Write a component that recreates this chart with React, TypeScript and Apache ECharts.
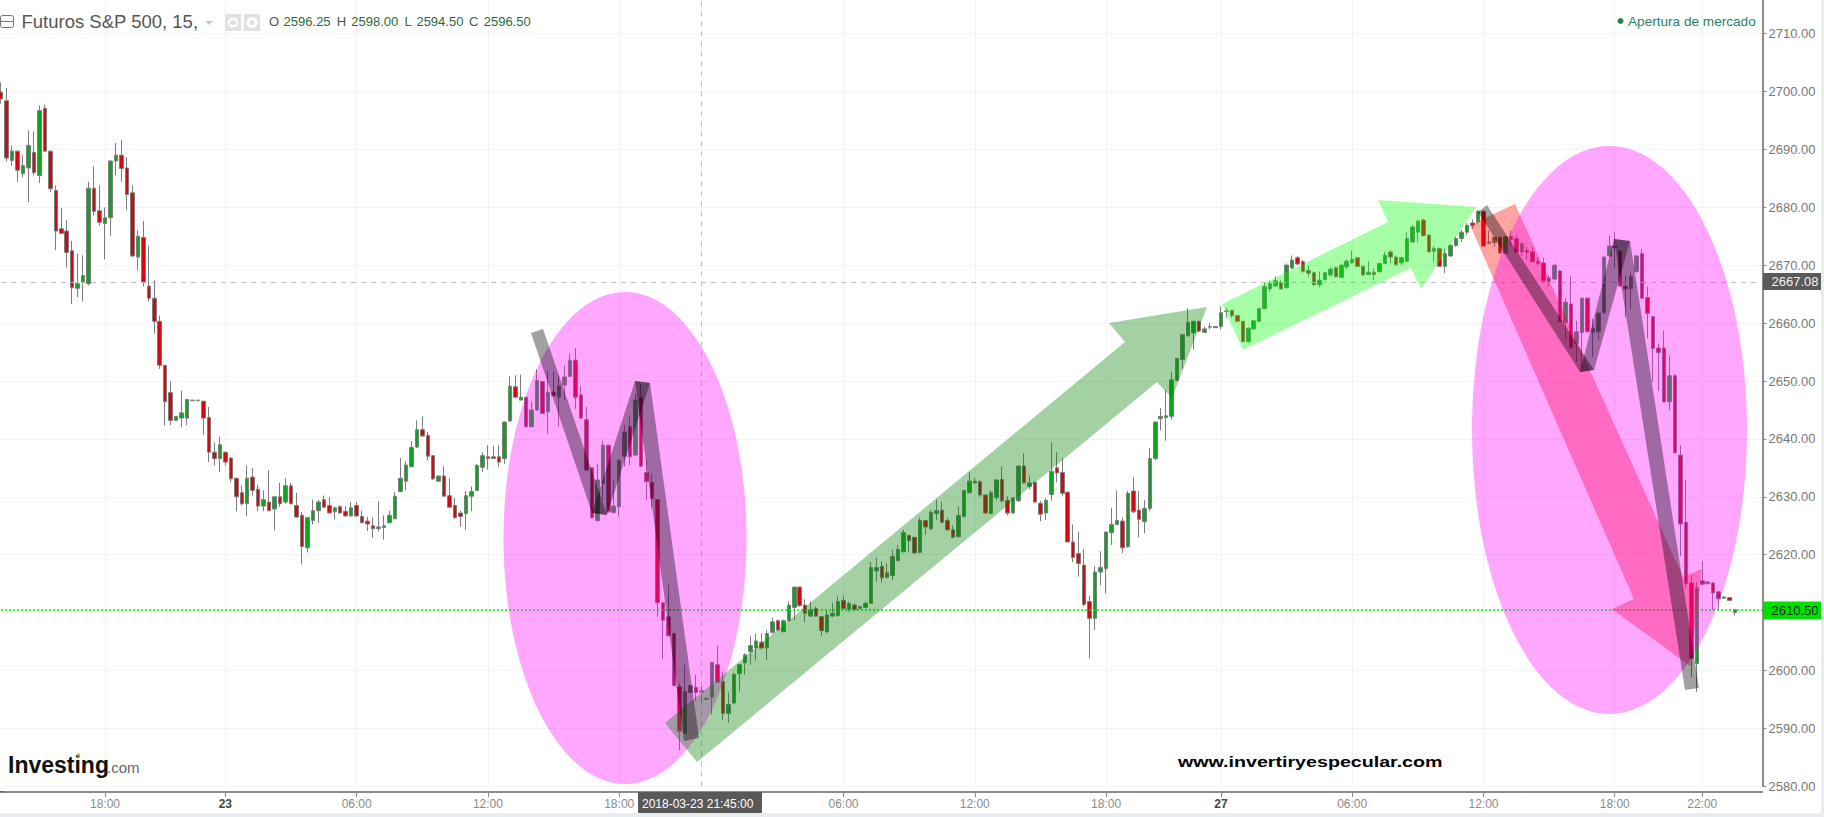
import React, { useEffect, useRef } from "react";
import * as echarts from "echarts";

// Each bar: [open, close, low, high]
const barsMar22Evening = [
  [2699.9,2698.7,2697.9,2701.6],[2698.4,2688.5,2687.9,2700.6],[2688.1,2689.7,2687.2,2690.7],[2689.7,2686.4,2684.4,2689.8],
  [2685.8,2687.2,2685.2,2689],[2686.8,2690.7,2680.9,2693.3],[2689.5,2686,2685.5,2693.1],[2685.5,2696.7,2684.2,2697.6],
  [2697.1,2689.7,2689.6,2697.7],[2689.7,2683.2,2682.6,2689.8],[2682.9,2675.9,2672.6,2683.8],[2676.3,2675.5,2675.5,2679.9],
  [2675.9,2672.2,2669.6,2677.8],[2672.5,2666.1,2663.3,2674.2],[2666,2666.8,2664.5,2672],[2667.1,2668.2,2663.7,2671.7],
  [2666.8,2683.3,2666.5,2684.4],[2683.3,2679.3,2678.6,2687.1],[2679.4,2677.4,2676.8,2683.8],[2677.2,2678.2,2671,2680],
  [2678.2,2688,2675.1,2688.1],[2688,2689,2685.5,2691.1],[2689,2686.7,2684.4,2691.6],[2686.8,2682.2,2679.5,2688.7],
  [2682.5,2671.6,2671.4,2683.8],[2671.4,2675,2669.1,2676],[2674.8,2667.1,2666.3,2677.6],[2666.4,2664.3,2663.7,2673.4],
  [2664.3,2660.3,2658.2,2667.4],[2660.3,2652.7,2652.1,2661.3],[2652.7,2646.4,2642.3,2652.8],[2648,2643.2,2642.4,2650],
  [2643.2,2643.9,2643.2,2643.9],[2643.6,2644.5,2642,2648.3],[2643.6,2646.8,2642.4,2646.8],[2646.6,2646.7,2646.6,2646.7],
  [2646.6,2646.7,2646.6,2646.7],[2646.5,2643.6,2640.7,2646.6],[2643.7,2637.7,2636,2645.5],[2637.7,2636.6,2635.4,2639.4],
  [2636.6,2639,2634.3,2640.4],
];
const barsMar23Morning = [
  [2637.7,2636,2635.4,2637.8],[2636.7,2633.1,2632.5,2636.8],[2633.2,2630,2627.5,2633.3],[2630.7,2628.8,2628.5,2632],
  [2628.8,2633.2,2626.7,2635.4],[2633.4,2631.1,2630.2,2635],[2631.3,2628.4,2627.5,2632.1],[2628.4,2629.5,2627.5,2631.1],
  [2629.1,2627.6,2627.5,2634.6],[2627.9,2630,2624.2,2630.1],[2630,2628.8,2628.3,2632.4],[2629.1,2631.9,2628.8,2633.2],
  [2631.9,2628.8,2628.7,2632.4],[2628.5,2626.5,2626.4,2630.7],[2626.8,2621.4,2618.3,2627.4],[2621.2,2626.4,2620.4,2626.5],
  [2625.9,2627.6,2625.2,2629.5],[2627.6,2629.1,2625.5,2629.5],[2629.5,2628.2,2628.1,2630.2],[2628.5,2627.2,2627.2,2629.9],
  [2627.4,2628.1,2626.1,2628.3],[2628.3,2627.2,2627.1,2628.5],[2627.5,2626.7,2626.6,2628.4],[2626.7,2628.1,2626.6,2629.1],
  [2628.5,2626.7,2626.5,2629.1],[2626.6,2625.5,2625.5,2627.6],[2625.8,2625.3,2624.1,2626.5],[2625,2624.5,2622.9,2626.4],
  [2624.5,2624.8,2624,2629.2],[2624.7,2625,2622.6,2626.8],[2625.5,2626.8,2625.5,2627.6],[2626.2,2630.1,2626.2,2630.8],
  [2630.9,2633.2,2630.8,2636.7],[2632.7,2635.5,2631.1,2636.1],[2635.2,2638.5,2635.1,2639.6],[2638.6,2641.6,2638.4,2643.2],
  [2641.6,2640.5,2640.4,2643.9],[2640.6,2637,2636.3,2641.2],[2637.1,2633.1,2632.9,2637.2],[2632.7,2633.6,2632.6,2633.6],
  [2633.6,2630.1,2630.1,2635.3],[2630.2,2628.2,2628.2,2633.2],[2628.5,2626.4,2626.2,2629.8],[2627.2,2626.6,2624.8,2627.6],
  [2627.1,2630.2,2624.3,2631],[2630.1,2630.9,2627.5,2631.8],[2631.1,2635.4,2631,2635.7],[2635.1,2637.1,2634.3,2637.7],
  [2636.9,2636.6,2634.7,2638.9],[2636.9,2636.6,2636.6,2638.8],[2636.9,2636,2635.2,2638.9],
];
const barsMar23Afternoon = [
  [2636.6,2642.9,2635.7,2643],[2643.1,2649.1,2642.9,2650.8],[2649,2647.2,2647,2651],[2646.7,2647.2,2646.7,2651.1],
  [2647.2,2642.1,2642,2647.2],[2642.1,2645,2642,2646.4],[2645,2650.1,2644.9,2652],[2649.9,2644.4,2644.3,2650],
  [2644.7,2648.1,2640.9,2651.7],[2648.1,2647.5,2647.2,2651.6],[2647.2,2649.1,2642.1,2651],[2649.3,2650.7,2646.7,2652.7],
  [2650.8,2653.6,2650.7,2654.7],[2653.6,2647.2,2645.2,2655.7],[2647.6,2643.6,2643.5,2649.1],[2643.3,2634.6,2634.5,2645.5],
  [2635,2626.4,2626.3,2635],[2625.9,2632.9,2625.7,2635.7],[2632.3,2638.9,2629.4,2639.7],[2638.9,2627.4,2627.3,2639],
  [2627.3,2628.4,2627.1,2632.9],[2628.3,2636.3,2626.6,2636.4],[2637,2641.2,2635.2,2642.4],[2642.1,2636.9,2635.5,2643.8],
  [2637.2,2646.7,2637,2647.8],[2647.2,2635.3,2635.2,2649.5],[2634.2,2632.6,2629.4,2636.3],[2632.5,2629.7,2628,2634],
  [2629.5,2611.7,2609.3,2629.6],[2611.7,2608.7,2602,2611.8],[2609.3,2606,2605.9,2614.8],[2606.4,2597.4,2597.3,2606.5],
  [2597.2,2589.5,2586.2,2597.8],[2589.2,2596.4,2589.1,2601],[2596.2,2597.4,2596,2597.5],[2597.1,2596.2,2594.7,2599.3],
  [2596.25,2596.5,2594.5,2598],[2595,2595.2,2595,2595.3],[2595.4,2601.4,2592.4,2601.5],[2601,2598,2597.8,2604.3],
];
const barsMar26Night = [
  [2598.1,2592.6,2591.4,2599.8],[2592.6,2594.1,2591,2596.2],[2594.4,2599.3,2594.2,2599.6],[2599.5,2601,2596.4,2601.1],
  [2601.3,2602.7,2599.3,2603],[2603.3,2604.3,2601,2605.9],[2603.9,2605.1,2601.7,2606.4],[2604.9,2603.9,2603.6,2606.4],
  [2603.9,2606.4,2601.8,2607],[2606.6,2608.4,2606.4,2609.1],[2608.6,2607,2606.8,2608.8],[2606.7,2608.6,2606.6,2608.8],
  [2608.6,2611.3,2608.4,2611.9],[2610.9,2614.4,2608.7,2614.5],[2614.4,2611.2,2611,2614.5],[2611.3,2609.9,2608.3,2612.3],
  [2609.4,2610.5,2609.3,2611.9],[2610.7,2609.4,2609.3,2611],[2609.3,2606.9,2606,2609.4],[2606.7,2609.6,2606.4,2610.5],
  [2609.4,2609.9,2609.3,2611.7],[2609.5,2611.9,2609.3,2612.8],[2612.1,2610.7,2610.6,2612.9],[2610.6,2611.6,2610.2,2611.9],
  [2611.3,2610.5,2610.3,2611.6],[2610.7,2611,2610.6,2611.2],[2610.9,2611.6,2610.7,2611.9],[2611.6,2617.8,2611.5,2618.8],
  [2617.2,2617.8,2615.3,2619.5],[2618,2616,2615.2,2618.8],[2616.1,2616.9,2615.9,2618.5],[2616.4,2619.7,2615.6,2620.8],
  [2619,2620.9,2618.8,2621.7],[2620.5,2623.8,2620.4,2624.3],[2623.3,2622.4,2620.5,2623.5],[2623,2620.3,2620.2,2623.1],
  [2620.4,2625.9,2620.2,2626.4],[2625.9,2624.8,2623.4,2626],[2624.5,2627.3,2624.2,2627.7],[2627.1,2627.6,2626,2629.5],
  [2627.7,2625.6,2625.4,2629.1],[2625.9,2624.3,2624.1,2626.3],[2624.3,2623,2622.8,2625.1],[2623.1,2626.8,2623,2628.3],
  [2626.6,2631.1,2626.4,2631.2],[2630.7,2632.7,2630.6,2634.3],[2632.7,2632.4,2632.3,2633.2],[2632.6,2630.3,2630,2632.9],
  [2630.3,2627.2,2627,2630.4],[2627.1,2630.7,2627,2631.1],[2629.9,2632.9,2629.4,2633],
];
const barsMar26Day = [
  [2633,2629.3,2629,2635.2],[2629.4,2627.2,2626.8,2630.1],[2627.2,2629.8,2627.1,2629.9],[2629.3,2635.3,2629.1,2635.4],
  [2635.3,2632.4,2632.3,2637.5],[2631.8,2632.4,2631.3,2633.7],[2632.5,2629.1,2629,2632.7],[2628.9,2627,2625.8,2629.3],
  [2627.2,2629.4,2626,2629.8],[2630.4,2634.4,2629.3,2639.4],[2635,2634.1,2632.5,2637.7],[2634.2,2630.6,2630.1,2636.7],
  [2630.8,2622.2,2622.2,2631],[2622.2,2619.5,2618.7,2625.2],[2620.2,2618.5,2616.2,2624],[2618.2,2611.4,2611.1,2621],
  [2611.9,2609,2602.1,2612.9],[2609,2617,2607,2618],[2617,2617.8,2614.7,2620.6],[2617.6,2623.9,2613.3,2624],
  [2623.8,2625.2,2621.7,2628.1],[2625.2,2625.9,2625.1,2631.1],[2625.8,2621.2,2620.3,2626.4],[2621.4,2630.6,2621.2,2631],
  [2631,2627.4,2627.2,2633.4],[2627.7,2626.1,2623,2631],[2625.7,2628,2623.7,2629.4],[2628,2636.6,2627.5,2638.4],
  [2636.6,2642.9,2636.3,2643],[2643.5,2643.9,2641.5,2645.3],[2643.7,2644,2639.7,2648.5],[2643.9,2650.2,2643.3,2651.6],
  [2650.1,2653.9,2650,2654],[2653.7,2658,2652.1,2658.1],[2657.8,2660.1,2657.7,2662.6],[2658.3,2660.3,2655.4,2660.4],
  [2660.3,2658.6,2658.4,2660.4],[2658.4,2659,2658.3,2659.4],[2659.3,2659.4,2658.9,2660],[2659.4,2659.2,2659.2,2659.4],
];
const barsMar27Night = [
  [2659.4,2661.8,2658.9,2662.9],[2662,2662.1,2660.9,2662.6],[2662.2,2661.3,2660.9,2662.3],[2661.3,2660.3,2660.2,2661.4],
  [2660.3,2656.8,2656.7,2660.4],[2656.8,2659.1,2656.6,2659.3],[2659,2660.4,2658.9,2660.6],[2660.3,2662.5,2660.2,2662.6],
  [2662.5,2666.3,2662.4,2666.9],[2665.9,2666.8,2665.4,2667.3],[2666.4,2667.3,2666.3,2668.1],[2667,2665.9,2665.8,2667.4],
  [2666.1,2670,2666,2670.3],[2669.5,2670.9,2669.3,2671.7],[2671.3,2670.2,2670,2671.6],[2670.6,2668.9,2668.7,2670.9],
  [2669.1,2668.6,2668,2669.9],[2668.7,2666.6,2666.5,2668.9],[2666.6,2667.4,2666.2,2668.9],[2667.5,2668.7,2667.4,2668.9],
  [2668.3,2669.3,2668.1,2669.6],[2669.6,2668,2667.9,2669.7],[2667.9,2670,2667.8,2670.3],[2669.7,2670.7,2669.3,2671],
  [2670.4,2671,2670.3,2672.5],[2671.3,2669.8,2669.7,2671.4],[2669.8,2668.3,2668.1,2670],[2668.4,2668.8,2668.3,2670.6],
  [2668.8,2668.4,2667.4,2669.4],[2668.9,2670.3,2668.7,2670.4],[2670.3,2671.7,2670.2,2672.3],[2672.3,2671.4,2670.3,2672.6],
  [2671.4,2670.1,2669.8,2671.7],[2670.4,2671.3,2670,2671.4],[2670.7,2674.6,2670.6,2675.7],[2674,2676.6,2673.9,2676.9],
  [2675.7,2677.6,2674,2677.8],[2677.8,2675.1,2674.9,2678],[2675.2,2672.3,2672.2,2675.3],[2672.4,2672.9,2670.6,2673.3],
  [2672.9,2669.8,2669.7,2673],[2669.8,2672,2668.6,2672.9],[2671.6,2673.4,2671.4,2673.6],[2673.4,2674.6,2673.2,2674.9],
  [2674.6,2675.7,2674,2676.1],[2675.7,2676.9,2675.2,2677.3],[2677.3,2676.9,2676.3,2677.9],
];
const barsMar27Day = [
  [2677.5,2679.3,2677.2,2679.5],[2679.3,2673.3,2673.2,2679.5],[2674,2673.8,2673.6,2676],[2673.9,2674.8,2673.2,2674.9],
  [2674.8,2672.1,2672,2674.9],[2672.1,2674.9,2672,2675],[2675,2674.4,2673.4,2676],[2674.6,2672.3,2672.2,2675.2],
  [2672.3,2673.7,2671.6,2674],[2672.6,2672.2,2670.9,2673.2],[2672.3,2670.6,2670.5,2673.2],[2670.7,2670.3,2670,2671.4],
  [2670.4,2667.3,2667.1,2671.3],[2667.2,2667.8,2666.3,2668.3],[2667.6,2670,2667.4,2670.1],[2669,2660.3,2660.2,2669.1],
  [2660.1,2663.6,2657.1,2664.3],[2663.3,2655.8,2655.6,2668.1],[2656.5,2658.5,2653.3,2660.4],[2658.4,2664.3,2652,2664.4],
  [2664.3,2658.5,2658.4,2664.4],[2658.4,2659.1,2654.2,2660.8],[2658.5,2661.7,2657.1,2662],[2661.8,2671.4,2661.6,2671.6],
  [2671.6,2673.3,2671.4,2675.1],[2673.3,2673,2669.5,2675.7],[2672.4,2666.4,2666.2,2672.6],[2666.4,2665.9,2661,2668.2],
  [2666,2668,2662.5,2668.7],[2668.9,2671.6,2668.7,2671.7],[2672,2664.3,2664.1,2672.8],[2664.4,2661.7,2657.4,2666.3],
  [2661.1,2655.6,2649.8,2661.2],[2655.7,2654.9,2648.3,2656.5],[2655.7,2646.4,2646.3,2658.7],[2646.4,2650.9,2645,2654.4],
  [2650.9,2637.6,2637.5,2651.2],[2637.2,2625.3,2619.8,2638.9],[2625.6,2615,2614.2,2632.9],[2615.1,2602.1,2598.9,2616.5],
  [2601.2,2614.3,2596.3,2615.3],[2615.5,2614.9,2614.7,2618.9],[2615.3,2615,2614.9,2615.4],[2615.1,2613.4,2610.5,2615.3],
  [2613.6,2612.4,2610.4,2613.7],[2612.5,2612.7,2612.4,2612.8],[2612.6,2612.1,2612,2612.7],[2610,2610.5,2609.5,2610.5],
];

const tickIndices = [19, 41, 65, 89, 113, 154, 178, 202, 223, 247, 271, 295, 311];
const tickLabels = ["18:00", "23", "06:00", "12:00", "18:00", "06:00", "12:00", "18:00", "27", "06:00", "12:00", "18:00", "22:00"];
const dayTicks = ["23", "27"];
const crosshairIndex = 128;
const crosshairTime = "2018-03-23 21:45:00";
const lastPriceLevel = 2610.5;
const crosshairPrice = 2667.08;
const hiddenPriceTicks = [2610, 2720];

const title = "Futuros S&P 500, 15,";
const ohlcLegend = [
  ["O", "2596.25", 269, 283.6],
  ["H", "2598.00", 336.8, 351.3],
  ["L", "2594.50", 404.5, 416.4],
  ["C", "2596.50", 469, 483.7],
];

const SLOTS = 323;

const pink = "rgba(255,0,255,0.35)";
const shadow = "rgba(0,0,0,0.37)";

const poly = (points: number[][], fill: string, z: number) => ({
  type: "polygon",
  z,
  silent: true,
  shape: { points },
  style: { fill },
});

export default function App() {
  const ref = useRef<HTMLDivElement>(null);
  useEffect(() => {
    document.body.style.margin = "0";
    document.body.style.background = "#fff";
    const chart = echarts.init(ref.current!, undefined, { renderer: "svg", width: 1824, height: 817 });
    const bars = [
      ...barsMar22Evening, ...barsMar23Morning, ...barsMar23Afternoon, ...barsMar26Night,
      ...barsMar26Day, ...barsMar27Night, ...barsMar27Day,
    ];
    const categories = Array.from({ length: SLOTS }, (_, i) => {
      const k = tickIndices.indexOf(i);
      return k >= 0 ? `${tickLabels[k]}#${i}` : `#${i}`;
    });
    const isTick = (i: number) => tickIndices.includes(i);

    const text = (t: string, x: number, y: number, font: string, fill: string, z = 70, extra: any = {}) => ({
      type: "text",
      x,
      y,
      z,
      silent: true,
      ...extra,
      style: { text: t, font, fill, textAlign: "left", textVerticalAlign: "middle", ...(extra.style || {}) },
    });

    const elements: any[] = [
      // annotation shapes
      poly([[1470, 225], [1515, 204], [1683, 577], [1702, 569], [1690, 666], [1612, 609], [1634, 599]], "rgba(255,0,0,0.36)", 49),
      { type: "ellipse", z: 50, silent: true, shape: { cx: 625, cy: 538, rx: 121.5, ry: 246 }, style: { fill: pink } },
      { type: "ellipse", z: 50, silent: true, shape: { cx: 1609.5, cy: 430, rx: 137.5, ry: 284 }, style: { fill: pink } },
      poly([[665, 723], [1125, 342], [1109, 323], [1207, 307], [1172, 398], [1157, 382], [697, 762]], "rgba(0,128,0,0.36)", 51),
      poly([[1222, 304], [1388, 222], [1378, 200], [1476, 207], [1421, 289], [1411, 268], [1243, 350]], "rgba(0,255,0,0.35)", 51),
      poly([[531, 333], [543, 329], [607, 515], [592, 513]], shadow, 53),
      poly([[592, 513], [607, 515], [650, 383], [635, 381]], shadow, 53),
      poly([[635, 381], [650, 383], [699, 738], [684, 741]], shadow, 53),
      poly([[1478, 212], [1487, 205], [1594, 370], [1580, 372]], shadow, 53),
      poly([[1580, 372], [1594, 370], [1630, 241], [1614, 239]], shadow, 53),
      poly([[1614, 239], [1630, 241], [1699, 688], [1685, 690]], shadow, 53),

      // clip of the price labels and page strips
      { type: "rect", z: 60, silent: true, shape: { x: 1815, y: 0, width: 6, height: 792 }, style: { fill: "#fff" } },
      { type: "rect", z: 61, silent: true, shape: { x: 1821, y: 0, width: 3, height: 817 }, style: { fill: "#e8ecf0" } },
      { type: "rect", z: 61, silent: true, shape: { x: 0, y: 813, width: 1824, height: 4 }, style: { fill: "#e8ecf0" } },
      { type: "rect", z: 40, silent: true, shape: { x: 0, y: 791, width: 4, height: 1.5 }, style: { fill: "#666" } },

      // price tags
      { type: "rect", z: 65, silent: true, shape: { x: 1763, y: 273, width: 58, height: 17 }, style: { fill: "#5a5a5a" } },
      text("2667.08", 1771.5, 281.5, "13px 'Liberation Sans'", "#f2f2f2"),
      { type: "rect", z: 65, silent: true, shape: { x: 1763, y: 601.5, width: 58, height: 18 }, style: { fill: "#00e000" } },
      text("2610.50", 1771.5, 610.5, "13px 'Liberation Sans'", "#222"),

      // time tag
      { type: "rect", z: 65, silent: true, shape: { x: 638, y: 792, width: 124, height: 21 }, style: { fill: "#595959" } },
      text(crosshairTime, 642, 803.5, "12px 'Liberation Sans'", "#fff"),

      // header
      { type: "rect", z: 70, silent: true, shape: { x: 0.5, y: 15.5, width: 13, height: 12, r: 2 }, style: { fill: "#fff", stroke: "#777", lineWidth: 1 } },
      { type: "line", z: 71, silent: true, shape: { x1: 0.5, y1: 21.5, x2: 13.5, y2: 21.5 }, style: { stroke: "#777", lineWidth: 1 } },
      text(title, 21.5, 21.5, "18.5px 'Liberation Sans'", "#555"),
      poly([[205, 21], [213, 21], [209, 25]], "#c8c8c8", 70),
      { type: "rect", z: 70, silent: true, shape: { x: 225, y: 14, width: 16, height: 17 }, style: { fill: "#e2e2e2" } },
      { type: "rect", z: 70, silent: true, shape: { x: 244, y: 14, width: 16, height: 17 }, style: { fill: "#e2e2e2" } },
      { type: "ring", z: 71, silent: true, shape: { cx: 233, cy: 22.5, r: 5, r0: 3 }, style: { fill: "#fff" } },
      { type: "ring", z: 71, silent: true, shape: { cx: 252, cy: 22.5, r: 5.5, r0: 2.5 }, style: { fill: "#fff" } },
      ...ohlcLegend.flatMap(([k, v, kx, vx]) => [
        text(k as string, kx as number, 21.5, "13px 'Liberation Sans'", "#4a5a52"),
        text(v as string, vx as number, 21.5, "13px 'Liberation Sans'", "#1e6b3c"),
      ]),
      { type: "circle", z: 70, silent: true, shape: { cx: 1620.5, cy: 21, r: 3 }, style: { fill: "#2e7d50" } },
      text("Apertura de mercado", 1628, 21, "13.6px 'Liberation Sans'", "#2b7f6a"),

      // logos
      text("Investing", 8, 765, "bold 23px 'Liberation Sans'", "#111"),
      text(".com", 107, 767, "15px 'Liberation Sans'", "#666"),
      { type: "circle", z: 71, silent: true, shape: { cx: 78.5, cy: 755, r: 1.6 }, style: { fill: "#e89b1f" } },
      text("www.invertiryespecular.com", 1178, 762, "bold 15px 'Liberation Sans'", "#000", 70, { scaleX: 1.31 }),
    ];

    chart.setOption({
      animation: false,
      backgroundColor: "#fff",
      grid: { left: 1.1, top: -24.3, width: 322 * 5.47, height: 810.6, containLabel: false, outerBoundsMode: "none" },
      xAxis: {
        type: "category",
        data: categories,
        boundaryGap: false,
        offset: 5.7,
        axisLine: { lineStyle: { color: "#666", width: 1.5 } },
        axisTick: { alignWithLabel: true, length: 5, interval: (i: number) => isTick(i), lineStyle: { color: "#888" } },
        axisLabel: {
          interval: (i: number) => isTick(i),
          hideOverlap: false,
          margin: 6,
          fontFamily: "Liberation Sans",
          fontSize: 12,
          color: "#8a8a8a",
          formatter: (v: string) => {
            const t = v.split("#")[0];
            return dayTicks.includes(t) ? `{d|${t}}` : t;
          },
          rich: { d: { fontWeight: "bold", color: "#444", fontSize: 12, fontFamily: "Liberation Sans" } },
        },
        splitLine: { show: true, interval: (i: number) => isTick(i), lineStyle: { color: "#f3f3f3", width: 1 } },
      },
      yAxis: {
        type: "value",
        position: "right",
        min: 2580,
        max: 2720,
        interval: 10,
        axisLine: { show: true, lineStyle: { color: "#666", width: 1.5 } },
        axisTick: { show: true, length: 4, lineStyle: { color: "#888" } },
        axisLabel: {
          margin: 6,
          color: "#777",
          fontFamily: "Liberation Sans",
          fontSize: 13,
          formatter: (v: number) => (hiddenPriceTicks.includes(v) ? "" : v.toFixed(2)),
        },
        splitLine: { show: true, lineStyle: { color: "#f3f3f3", width: 1 } },
      },
      series: [
        {
          type: "candlestick",
          data: bars,
          barWidth: 4,
          clip: false,
          itemStyle: {
            color: "#0ca51f",
            color0: "#d00a10",
            borderColor: "#7d7d7d",
            borderColor0: "#7d7d7d",
            borderColorDoji: "#7d7d7d",
            borderWidth: 1,
          },
          markLine: {
            silent: true,
            symbol: "none",
            label: { show: false },
            animation: false,
            data: [
              { yAxis: crosshairPrice, lineStyle: { color: "#bdbdbd", type: [5, 5], width: 1 } },
              { yAxis: lastPriceLevel, lineStyle: { color: "#00e600", type: [2, 2], width: 1.5 } },
              { xAxis: crosshairIndex, lineStyle: { color: "#bdbdbd", type: [5, 5], width: 1 } },
            ],
          },
        },
      ],
      graphic: { elements },
    });
    return () => chart.dispose();
  }, []);
  return <div ref={ref} style={{ width: 1824, height: 817, overflow: "hidden" }} />;
}
